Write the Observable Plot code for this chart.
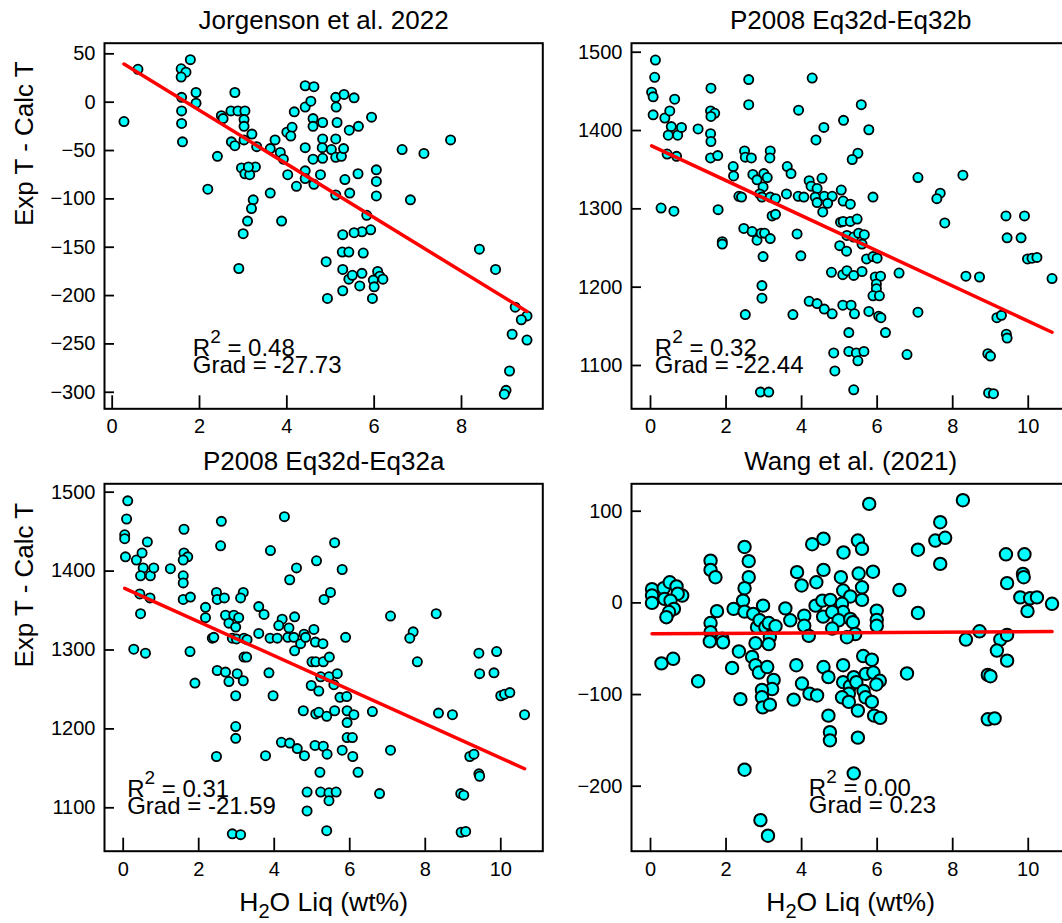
<!DOCTYPE html>
<html>
<head>
<meta charset="utf-8">
<script src="https://cdn.jsdelivr.net/npm/d3@7"></script>
<script src="https://cdn.jsdelivr.net/npm/@observablehq/plot@0.6"></script>
<style>
  html, body { margin: 0; padding: 0; background: #fff; overflow: hidden; }
  #fig { position: relative; width: 1062px; height: 923px; overflow: hidden; background: #fff; }
</style>
</head>
<body>
<div id="fig"></div>
<script>
// ---------------- Jorgenson et al. 2022 ----------------
const jorgH2O = [0.27,0.59,1.79,1.58,1.69,1.58,1.59,1.59,1.59,1.61,1.92,1.92,2.5,2.54,2.72,2.81,2.88,3.04,3.02,3.02,
  3.2,3.31,2.73,2.81,3.02,2.41,2.19,2.96,3.04,3.15,3.28,3.12,3.23,3.19,3.1,3.0,2.9,3.62,3.73,3.62,
  3.85,3.92,3.88,4.02,4.22,4.0,4.12,4.09,4.17,4.42,4.62,4.42,4.55,4.42,4.42,4.42,4.62,4.6,4.6,4.82,
  4.6,4.82,4.81,4.82,4.77,5.02,5.12,5.31,5.13,5.15,5.12,5.12,5.25,5.3,5.43,5.33,5.44,5.12,4.9,4.93,
  5.28,5.27,5.42,5.28,5.42,5.28,5.54,5.64,5.94,6.64,7.14,7.75,5.63,6.05,6.05,6.05,6.83,5.83,5.92,5.72,
  5.54,5.75,5.5,5.72,5.67,6.08,6.13,6.2,5.98,6.0,5.96,8.41,8.78,9.23,9.5,9.37,9.16,9.5,9.1,9.02,8.98];
const jorgDT = [-20,34,44,34.5,31,26,5,-9,-22,-41,10,-1,-14,-17,-9,10,-9,-9,-18,-25,
  -33,-46,-41,-45,-39,-56,-90,-68,-74,-75,-67,-67,-101,-110,-123,-136,-172,-94,-39,-48,
  -52,-59,-123,-75,-87,-31,-26,-35,-10,17,16,-5,1,-47,-71,-79,-85,-17,-25,-21,
  -59,-38,-47,-58,-75,-49,5,8,-5,-21,-38,-57,-56,-48,-29,-80,-94,-96,-165,-203,
  -137,-155,-155,-173,-183,-195,4.5,-25,-15.5,-49,-53,-39,-74,-70,-82,-97,-101,-117,-132,-134,
  -135,-156,-179,-177,-190,-175,-180,-183,-184,-191,-203,-152,-173,-212,-221,-225,-240,-246,-278,-298,-302];

// ---------------- P2008 Eq32d-Eq32b ----------------
const eq32bH2O = [0.13,0.11,0.03,0.07,0.07,0.38,0.51,0.64,0.55,0.47,0.72,0.82,0.44,0.69,0.28,0.62,1.26,1.6,1.59,1.7,
  1.6,1.59,1.6,1.59,1.78,1.79,1.9,1.9,2.19,2.2,2.34,2.41,2.6,2.6,2.49,2.51,2.67,2.71,2.82,2.47,
  2.69,2.82,2.93,3.02,3.17,2.98,2.95,2.95,2.51,2.91,3.13,3.0,3.09,2.98,2.89,2.95,3.17,3.31,3.17,3.16,
  3.22,3.31,3.62,3.72,3.6,3.91,4.06,3.92,3.88,3.98,3.77,4.2,4.41,4.28,4.38,4.2,4.25,4.41,4.36,4.41,
  4.54,4.56,4.59,5.58,5.11,5.78,5.49,5.34,4.6,4.81,4.69,5.05,5.1,5.29,5.89,5.03,5.1,5.29,5.47,5.2,
  5.38,5.51,5.66,5.6,5.01,5.19,5.72,5.89,6.0,4.79,5.09,5.2,5.38,5.6,5.95,6.09,5.98,5.98,5.89,6.06,
  6.04,6.1,5.78,6.22,5.25,4.6,4.81,5.09,5.31,5.4,4.85,5.25,5.45,5.65,5.49,4.88,5.38,6.58,6.79,7.08,
  7.08,7.67,7.58,7.79,8.27,8.35,8.71,9.17,9.29,9.42,9.44,8.93,9.0,8.95,9.08,9.41,9.9,9.44,9.81,9.98,
  10.1,10.23,10.63];
const eq32bDT = [1490,1468,1449,1443,1420,1416,1425,1440,1405,1394,1394,1404,1370,1367,1301,1297,1402,1454,1425,1422,
  1418,1396,1386,1365,1368,1299,1258,1255,1354,1342,1316,1315,1465,1433,1374,1366,1365,1344,1337,1275,
  1271,1260,1269,1269,1262,1239,1202,1186,1165,1066,1066,1345,1340,1328,1319,1315,1315,1313,1374,1365,
  1291,1293,1354,1345,1319,1316,1315,1426,1268,1240,1165,1182,1179,1467,1388,1336,1329,1326,1315,1308,
  1339,1296,1404,1433,1413,1401,1371,1363,1316,1316,1307,1324,1310,1306,1315,1283,1284,1284,1287,1266,
  1264,1269,1267,1255,1253,1246,1236,1239,1237,1219,1216,1221,1215,1220,1213,1214,1204,1198,1189,1189,
  1163,1161,1169,1142,1142,1172,1166,1177,1177,1166,1116,1118,1116,1118,1106,1093,1069,1218,1114,1340,
  1168,1320,1313,1282,1343,1214,1213,1161,1164,1140,1135,1115,1112,1065,1064,1291,1291,1263,1263,1236,
  1237,1238,1211];

// ---------------- P2008 Eq32d-Eq32a ----------------
const eq32aH2O = [0.12,0.09,0.04,0.04,0.06,0.35,0.5,0.64,0.53,0.46,0.72,0.81,0.44,0.71,0.46,0.28,0.59,1.25,1.61,1.61,
  1.71,1.59,1.59,1.59,1.59,1.78,1.77,1.9,2.18,2.18,2.36,2.4,2.6,2.58,2.47,2.49,2.68,2.71,2.8,2.93,
  3.06,2.98,2.89,3.0,3.2,3.28,3.18,3.11,3.2,3.27,2.49,2.71,2.8,3.02,3.18,2.98,2.98,2.98,2.47,2.89,
  3.11,3.59,3.73,3.59,3.89,4.08,3.9,3.86,3.97,3.77,4.19,4.41,4.27,4.41,4.59,4.21,4.12,4.39,4.54,4.36,
  4.52,4.54,4.7,4.79,4.83,5.05,5.09,5.29,5.0,5.1,5.3,5.46,5.12,5.32,5.49,5.6,5.8,5.89,4.98,5.18,
  5.23,5.45,5.67,5.58,5.74,5.93,4.77,5.1,5.18,5.39,5.6,5.93,5.93,5.8,4.61,4.8,5.08,5.3,5.4,5.21,
  4.87,5.23,5.45,5.64,5.45,4.87,5.39,5.92,6.11,6.07,6.08,6.22,6.6,7.08,7.08,6.79,7.68,7.59,7.79,8.29,
  8.35,8.72,9.18,9.29,9.42,9.44,8.94,9.02,8.95,9.07,9.42,9.89,9.44,9.82,10.0,10.1,10.24,10.63];
const eq32aDT = [1489,1466,1446,1441,1418,1414,1423,1437,1404,1394,1394,1404,1371,1366,1346,1301,1296,1403,1453,1423,
  1418,1414,1394,1385,1364,1367,1298,1258,1354,1341,1315,1316,1463,1432,1373,1364,1366,1344,1334,1344,
  1341,1329,1315,1314,1315,1313,1373,1366,1291,1291,1274,1272,1260,1270,1261,1242,1203,1188,1165,1067,
  1066,1355,1345,1321,1315,1315,1426,1271,1242,1166,1183,1182,1469,1389,1404,1339,1331,1328,1342,1316,
  1316,1299,1308,1320,1316,1326,1310,1308,1285,1285,1285,1291,1413,1364,1373,1436,1402,1316,1255,1248,
  1266,1266,1270,1256,1240,1223,1223,1219,1221,1216,1223,1208,1189,1173,1175,1166,1179,1178,1168,1145,
  1120,1120,1119,1120,1109,1096,1071,1241,1218,1189,1165,1145,1222,1343,1173,1118,1323,1315,1285,1346,
  1220,1218,1165,1168,1143,1140,1118,1116,1069,1070,1296,1298,1270,1271,1242,1244,1246,1218];

// ---------------- Wang et al. (2021) ----------------
const wangH2O = [0.04,0.04,0.04,0.35,0.51,0.69,0.84,0.72,0.37,0.53,0.62,0.49,0.42,0.29,0.6,1.26,1.59,1.59,1.72,1.59,
  1.59,1.57,1.76,1.9,1.92,2.16,2.2,2.34,2.38,2.49,2.6,2.6,2.49,2.45,2.49,2.72,2.49,2.69,2.78,2.82,
  2.98,2.89,3.04,3.13,3.16,3.13,2.78,2.87,3.09,3.26,3.22,2.95,2.95,2.97,3.16,2.91,3.11,3.31,3.57,3.7,
  3.88,4.0,4.07,4.07,4.19,3.86,4.01,4.21,4.41,3.79,4.28,4.58,4.39,4.58,4.37,4.55,4.57,4.58,4.71,4.71,
  4.75,4.75,5.79,8.27,7.67,7.54,7.8,7.67,7.08,6.59,7.08,5.11,5.49,5.6,5.04,5.51,5.89,5.6,5.1,5.29,
  5.6,4.76,5.07,5.1,4.81,4.98,5.29,5.36,5.99,5.99,5.99,5.42,5.2,4.81,5.63,5.86,5.1,5.1,5.28,5.38,
  5.45,5.7,5.9,6.07,5.98,5.64,5.25,5.07,5.25,5.69,5.86,5.49,5.92,6.08,5.49,5.38,6.79,8.71,8.35,9.26,
  9.44,9.17,9.44,8.93,9.0,8.93,9.11,9.41,9.9,9.44,9.86,9.88,9.79,10.05,10.23,9.98,10.63];
const wangDT = [15,8,0,16,22.5,18,8,10,4.4,2.5,-6.5,-10,-15.6,-66,-61,-85.5,46,36,28,-22,
  -32,-42,-9,-39,-43,-71,-6.5,-53,-105,61,45.5,28,16,2.5,-9.5,-12,-182,-59,-44,-26.5,
  -3,-19,-26.5,-22,-37,-45,-68,-76,-70,-84,-94,-95,-103,-114,-111,-237,-254,-25.5,-6,-19,
  33.5,19,-14,-25,-36,-68,-88,-99,-101,-105.5,64,70,22.5,36,-3,2.5,-15,-70,-81,-123,
  -141,-150,108,112,88,68,71,42.5,58,14,-11,55,68,59,28,32,34,17,13.5,7,
  3.3,3.3,-1,-10,-10,-19,-17.5,-21,-8.4,-18.5,-25,-34,-37.5,-28,-58,-62,-68,-86.5,-91,-81,
  -86.5,-77.5,-76,-85,-89,-96,-99,-103,-108,-103,-108,-117.5,-123,-125.5,-147,-186,-77,-31,-40,-40,
  -35,-52,-63,-78.5,-80,-127,-126,53,53,21.5,31.6,28,6,5,6,-9,-1];

// Titles, fit statistics and fitted intercepts
const titles = ["Jorgenson et al. 2022", "P2008 Eq32d-Eq32b", "P2008 Eq32d-Eq32a", "Wang et al. (2021)"];
const r2Labels = ["0.48", "0.32", "0.31", "0.00"];
const gradLabels = ["-27.73", "-22.44", "-21.59", "0.23"];
const intercepts = [47, 1381, 1379, -33.8];

// Tick values
const xTicksJorg = [0, 2, 4, 6, 8];
const xTicksWide = [0, 2, 4, 6, 8, 10];
const yTicksJorg = [-300, -250, -200, -150, -100, -50, 0, 50];
const yTicksP2008 = [1100, 1200, 1300, 1400, 1500];
const yTicksWang = [-200, -100, 0, 100];

const yLabel = "Exp T - Calc T";
const xLabel = "H_2O Liq (wt%)";

// Layout of the four axes (pixels)
const FW = 438.3;
const panels = [
  {i: 0, xs: jorgH2O, ys: jorgDT, xDomain: [-0.176, 9.862], yDomain: [-317.1, 61.0], xTicks: xTicksJorg, yTicks: yTicksJorg,
   left: 0, top: 0, width: 560, height: 450, mL: 104, mT: 42.7, mB: 41.7, r: 4.6, sw: 1.8, ann: [88.3, -53.3], yLab: true, xLab: false},
  {i: 1, xs: eq32bH2O, ys: eq32bDT, xDomain: [-0.503, 11.10], yDomain: [1044.7, 1511.5], xTicks: xTicksWide, yTicks: yTicksP2008,
   left: 560, top: 0, width: 520, height: 450, mL: 71, mT: 42.7, mB: 41.7, r: 4.6, sw: 1.8, ann: [23.3, -53.3], yLab: false, xLab: false},
  {i: 2, xs: eq32aH2O, ys: eq32aDT, xDomain: [-0.495, 11.113], yDomain: [1045.0, 1510.6], xTicks: xTicksWide, yTicks: yTicksP2008,
   left: 0, top: 450, width: 560, height: 473, mL: 104, mT: 33.3, mB: 72.3, r: 4.6, sw: 1.8, ann: [22.7, -54.7], yLab: true, xLab: true},
  {i: 3, xs: wangH2O, ys: wangDT, xDomain: [-0.503, 11.10], yDomain: [-270.9, 129.9], xTicks: xTicksWide, yTicks: yTicksWang,
   left: 560, top: 450, width: 520, height: 473, mL: 71, mT: 33.3, mB: 72.3, r: 6.2, sw: 2, ann: [177.3, -55.7], yLab: false, xLab: true}
];

const FONT = "'Liberation Sans', Arial, Helvetica, sans-serif";
const fmt = d3.format("d");

// Turn "R^2" / "H_2O" into real superscript / subscript tspans
function richText(svg) {
  const ns = "http://www.w3.org/2000/svg";
  svg.querySelectorAll("text").forEach(t => {
    const m = t.textContent.match(/^(.*?)([\^_])(\d)(.*)$/);
    if (!m) return;
    const sup = m[2] === "^";
    t.textContent = "";
    const a = document.createElementNS(ns, "tspan");
    a.textContent = m[1];
    const b = document.createElementNS(ns, "tspan");
    b.textContent = m[3];
    b.setAttribute("font-size", sup ? 19 : 20);
    b.setAttribute("dy", sup ? -13 : 6.5);
    const c = document.createElementNS(ns, "tspan");
    c.textContent = m[4];
    c.setAttribute("dy", sup ? 13 : -6.5);
    t.append(a, b, c);
  });
}

const fig = document.getElementById("fig");

for (const p of panels) {
  const data = p.xs.map((x, k) => ({x, y: p.ys[k]}));
  const grad = +gradLabels[p.i];
  const fit = d3.extent(p.xs).map(x => ({x, y: intercepts[p.i] + grad * x}));
  const fh = p.height - p.mT - p.mB;
  const marks = [
    Plot.dot(data, {x: "x", y: "y", r: p.r, fill: "#00ffff", stroke: "black", strokeWidth: p.sw}),
    Plot.line(fit, {x: "x", y: "y", stroke: "#ff0000", strokeWidth: 3.5}),
    Plot.frame({stroke: "black", strokeWidth: 2}),
    Plot.tickX(p.xTicks, {x: d => d, stroke: "black", strokeWidth: 1.8, insetTop: fh - 13}),
    Plot.tickY(p.yTicks, {y: d => d, stroke: "black", strokeWidth: 1.8, insetRight: FW - 10}),
    Plot.text(p.xTicks, {x: d => d, text: d => fmt(d), frameAnchor: "bottom", dy: 24.5, lineAnchor: "bottom", fontSize: 20, fill: "black"}),
    Plot.text(p.yTicks, {y: d => d, text: d => fmt(d), frameAnchor: "left", dx: -9, textAnchor: "end", lineAnchor: "middle", fontSize: 20, fill: "black"}),
    Plot.text([titles[p.i]], {frameAnchor: "top", dy: -14, lineAnchor: "bottom", fontSize: 26, fill: "black"}),
    Plot.text(["R^2 = " + r2Labels[p.i]], {frameAnchor: "bottom-left", dx: p.ann[0], dy: p.ann[1], textAnchor: "start", lineAnchor: "bottom", fontSize: 24, fill: "black"}),
    Plot.text(["Grad = " + gradLabels[p.i]], {frameAnchor: "bottom-left", dx: p.ann[0], dy: p.ann[1] + 17.5, textAnchor: "start", lineAnchor: "bottom", fontSize: 24, fill: "black"})
  ];
  if (p.yLab) marks.push(Plot.text([yLabel], {frameAnchor: "left", dx: 32 - p.mL, rotate: -90, lineAnchor: "bottom", fontSize: 26, fill: "black"}));
  if (p.xLab) marks.push(Plot.text([xLabel], {frameAnchor: "bottom", dy: 60, lineAnchor: "bottom", fontSize: 26.5, fill: "black"}));

  const svg = Plot.plot({
    width: p.width,
    height: p.height,
    marginLeft: p.mL,
    marginRight: p.width - p.mL - FW,
    marginTop: p.mT,
    marginBottom: p.mB,
    x: {domain: p.xDomain, axis: null},
    y: {domain: p.yDomain, axis: null},
    style: {position: "absolute", left: p.left + "px", top: p.top + "px", fontFamily: FONT, overflow: "visible", background: "transparent", maxWidth: "none"},
    marks
  });
  richText(svg);
  fig.appendChild(svg);
}
</script>
</body>
</html>
